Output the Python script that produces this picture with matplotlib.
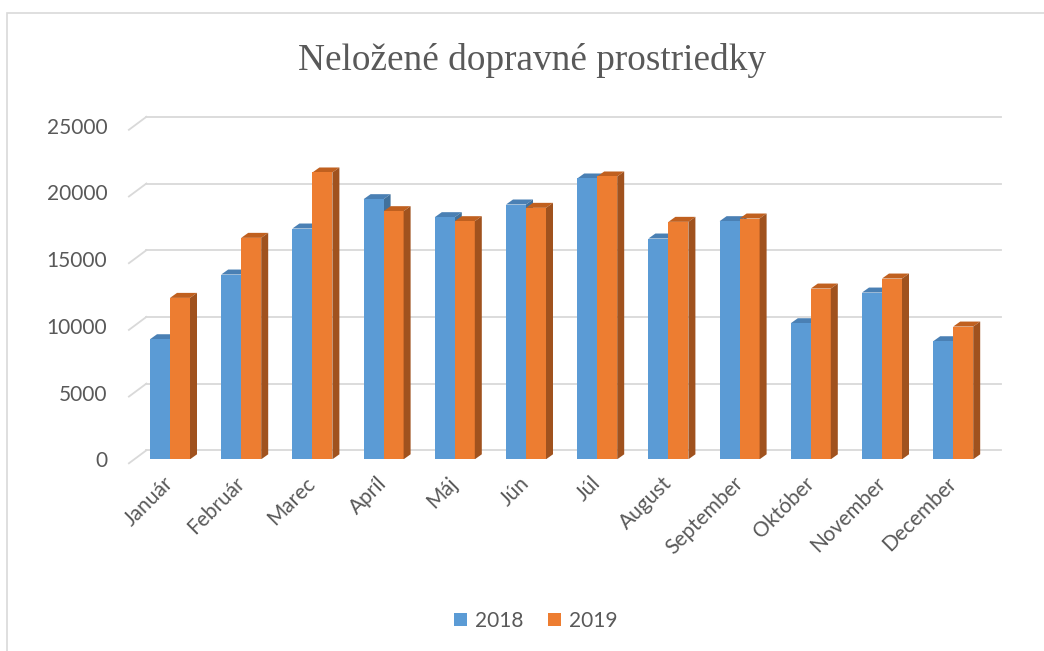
import matplotlib.pyplot as plt
import matplotlib.transforms as mtransforms
from matplotlib.patches import Polygon, Rectangle
import numpy as np

# data
mesiace = ['Január', 'Február', 'Marec', 'Apríl', 'Máj', 'Jún', 'Júl',
           'August', 'September', 'Október', 'November', 'December']
roky = ['2018', '2019']
hodnoty_2018 = [9000, 13850, 17300, 19500, 18150, 19100, 21050, 16550, 17850, 10200, 12500, 8850]
hodnoty_2019 = [12100, 16600, 21500, 18600, 17850, 18850, 21200, 17800, 18050, 12800, 13550, 9950]

farby = ['#5B9BD5', '#ED7D31']
farby_bok = ['#41719C', '#A0521E']
farby_vrch = ['#4A80B4', '#C0601F']
sivá = '#595959'

fig = plt.figure(figsize=(10.44, 6.51), dpi=100)
ax = fig.add_axes([134.4 / 1044, (651 - 459.3) / 651, 854.4 / 1044, 333.5 / 651])
ax.set_xlim(-0.5, 11.5)
ax.set_ylim(0, 25000)
for s in ax.spines.values():
    s.set_visible(False)

# 3D posuny v pixeloch
zadna = mtransforms.offset_copy(ax.transData, fig, x=12, y=9, units='dots')
predna = mtransforms.offset_copy(ax.transData, fig, x=-5.5, y=-4, units='dots')

ticks = np.arange(0, 25001, 5000)
for t in ticks:
    ax.plot([-0.5, 11.5], [t, t], color='#D9D9D9', lw=1.3, transform=zadna, clip_on=False, zorder=0)
    # sikma ciara od prednej steny k zadnej
    p1 = predna.transform((-0.5, t))
    p2 = zadna.transform((-0.5, t))
    ax.add_line(plt.Line2D([p1[0], p2[0]], [p1[1], p2[1]], color='#D9D9D9', lw=1.3,
                           transform=None, clip_on=False, zorder=0))

x = np.arange(len(mesiace))
sirka = 20 / 71.2
dx = 7 / 71.2           # hlbka stlpca v datach (x)
dy = 5 * 25000 / 333.5  # hlbka stlpca v datach (y)

for i, (hodnoty, f, fb, fv) in enumerate(zip([hodnoty_2018, hodnoty_2019], farby, farby_bok, farby_vrch)):
    pos = x - sirka + i * sirka
    ax.bar(pos, hodnoty, width=sirka, align='edge', color=f, zorder=2 + i, label=roky[i])
    for xi, h in zip(pos, hodnoty):
        vrch = Polygon([[xi, h], [xi + sirka, h], [xi + sirka + dx, h + dy], [xi + dx, h + dy]],
                       closed=True, facecolor=fv, edgecolor='none', zorder=1.5 + i)
        ax.add_patch(vrch)
        bok = Polygon([[xi + sirka, 0], [xi + sirka + dx, dy], [xi + sirka + dx, h + dy], [xi + sirka, h]],
                      closed=True, facecolor=fb, edgecolor='none', zorder=1.9 + 1.1 * i)
        ax.add_patch(bok)

ax.set_yticks(ticks)
ax.set_yticklabels([str(t) for t in ticks], fontsize=15, color=sivá, family='Lato')
ax.tick_params(axis='y', length=0, pad=19.5)
ax.set_xticks(x)
ax.set_xticklabels(mesiace, rotation=45, ha='right', va='center', rotation_mode='anchor',
                   fontsize=15, color=sivá, family='Lato')
ax.tick_params(axis='x', length=0, pad=15)

fig.text(532 / 1044, 1 - 60 / 651, 'Neložené dopravné prostriedky', ha='center', va='center',
         fontsize=26.8, color=sivá, family='Liberation Serif')

leg = fig.legend(loc='center', bbox_to_anchor=(536 / 1044, 1 - 621 / 651), ncol=2, frameon=False,
                 prop={'family': 'Lato', 'size': 15}, handlelength=0.6, handleheight=0.6,
                 columnspacing=1.2, handletextpad=0.4)
for t in leg.get_texts():
    t.set_color(sivá)

# okraj grafu
fig.patches.append(Rectangle((6.5 / 1044, -0.1), 1.1, 1 - 13 / 651 + 0.1, transform=fig.transFigure,
                             fill=False, edgecolor='#D9D9D9', lw=1.2))

fig.savefig('out.png', dpi=100)
